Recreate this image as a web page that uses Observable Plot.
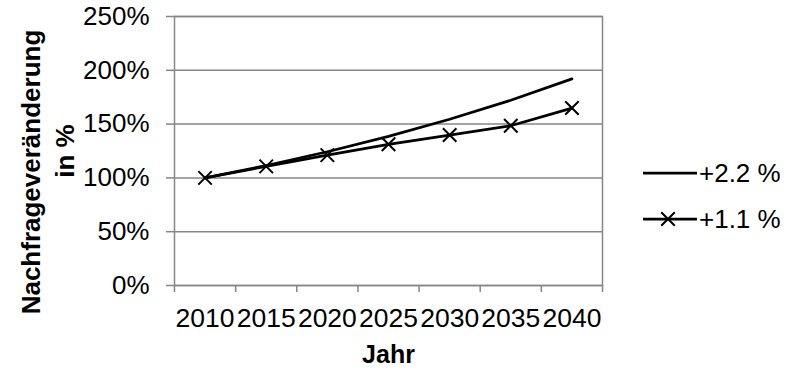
<!DOCTYPE html>
<html>
<head>
<meta charset="utf-8">
<script src="https://cdn.jsdelivr.net/npm/d3@7"></script>
<script src="https://cdn.jsdelivr.net/npm/@observablehq/plot@0.6"></script>
<style>
  body { margin: 0; background: #fff; }
  #chart { font-family: "Liberation Sans", Arial, sans-serif; }
</style>
</head>
<body>
<div id="chart"></div>
<script>
// Demand change relative to 2010 (= 100 %), two growth scenarios
const years = [2010, 2015, 2020, 2025, 2030, 2035, 2040];
const growth22 = [100, 111.5, 124.3, 138.6, 154.5, 172.2, 192.0];
const growth11 = [100, 110.7, 121.2, 131.2, 139.8, 148.5, 164.9];
const seriesNames = ["+2.2 %", "+1.1 %"];
const yTicks = [0, 50, 100, 150, 200, 250];
const yTitle = ["Nachfrageveränderung", "in %"];
const xTitle = "Jahr";

const rows22 = years.map((year, i) => ({year, value: growth22[i]}));
const rows11 = years.map((year, i) => ({year, value: growth11[i]}));

// category boundaries: tick marks sit between the years
const step = years[1] - years[0];
const bounds = [...years.map(y => y - step / 2), years[years.length - 1] + step / 2];

const font = '"Liberation Sans", Arial, sans-serif';
const grey = "#868686";

const plot = Plot.plot({
  width: 800,
  height: 370,
  marginLeft: 174,
  marginRight: 198,
  marginTop: 16,
  marginBottom: 85,
  style: {fontFamily: font, color: "#000", background: "#fff", overflow: "visible"},
  x: {domain: [bounds[0], bounds[bounds.length - 1]]},
  y: {domain: [0, 250]},
  marks: [
    Plot.gridY(yTicks, {stroke: grey, strokeOpacity: 1, strokeWidth: 1.5}),
    Plot.frame({stroke: grey, strokeWidth: 1.5}),
    Plot.axisY(yTicks, {
      tickSize: 8, tickPadding: 17, tickFormat: d => d + "%",
      stroke: grey, strokeWidth: 1.5, fontSize: 26, label: null
    }),
    Plot.axisX(bounds, {
      tickSize: 7, tickFormat: () => "", stroke: grey, strokeWidth: 1.5, label: null
    }),
    Plot.axisX(years, {
      tickSize: 0, tickPadding: 23, tickFormat: d => String(d), fontSize: 26.5, label: null
    }),
    Plot.line(rows22, {x: "year", y: "value", stroke: "#000", strokeWidth: 2.75}),
    Plot.line(rows11, {x: "year", y: "value", stroke: "#000", strokeWidth: 2.75}),
    Plot.dot(rows11, {x: "year", y: "value", symbol: "times", r: 6.2, stroke: "#000", strokeWidth: 2}),
    Plot.text([yTitle[0]], {
      frameAnchor: "left", rotate: -90, dx: -143, dy: 21,
      textAnchor: "middle", lineAnchor: "middle",
      fontWeight: "bold", fontSize: 26, fill: "#000"
    }),
    Plot.text([yTitle[1]], {
      frameAnchor: "left", rotate: -90, dx: -109, dy: 0,
      textAnchor: "middle", lineAnchor: "middle",
      fontWeight: "bold", fontSize: 26, fill: "#000"
    }),
    Plot.text([xTitle], {
      frameAnchor: "bottom", dy: 69, textAnchor: "middle", lineAnchor: "middle",
      fontWeight: "bold", fontSize: 25, fill: "#000"
    })
  ]
});

// legend to the right of the plot area
const legend = d3.select(plot).append("g")
  .attr("font-family", font)
  .attr("font-size", 26)
  .attr("text-anchor", "start")
  .attr("fill", "#000");

const legendRows = [173, 219];
seriesNames.forEach((name, i) => {
  const row = legend.append("g").attr("transform", `translate(643,${legendRows[i]})`);
  row.append("line")
    .attr("x1", 0).attr("x2", 54)
    .attr("stroke", "#000").attr("stroke-width", 2.75);
  if (i === 1) {
    row.append("path")
      .attr("transform", "translate(25,0)")
      .attr("d", d3.symbol(d3.symbolTimes, Math.PI * 6.2 * 6.2)())
      .attr("fill", "none").attr("stroke", "#000").attr("stroke-width", 2);
  }
  row.append("text")
    .attr("x", 56)
    .attr("dy", "0.35em")
    .attr("text-anchor", "start")
    .text(name);
});

document.getElementById("chart").appendChild(plot);
</script>
</body>
</html>
